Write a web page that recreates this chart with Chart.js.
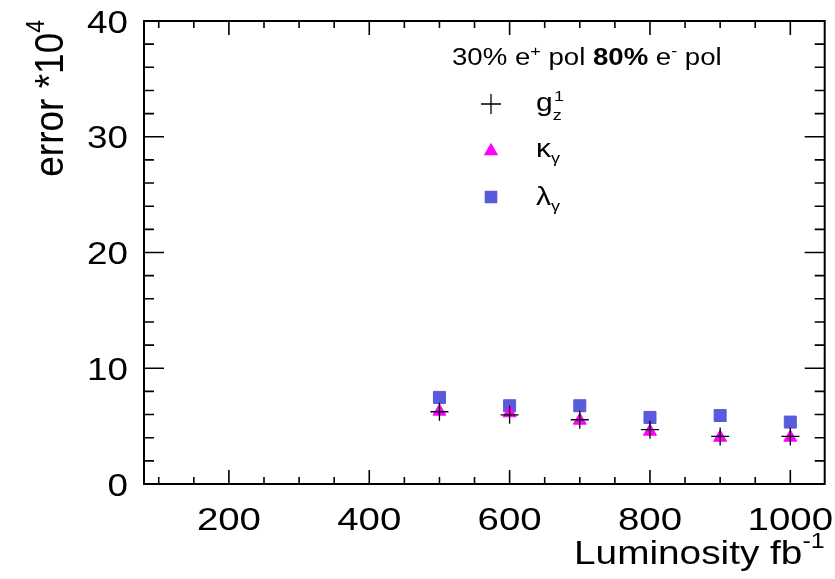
<!DOCTYPE html>
<html>
<head>
<meta charset="utf-8">
<script src="https://cdn.jsdelivr.net/npm/chart.js@4/dist/chart.umd.min.js"></script>
<style>
  html, body { margin: 0; background: #fff; }
</style>
</head>
<body>
<canvas id="errChart" width="835" height="579"></canvas>
<script>
// values (error * 10^4)
const luminosity = [500, 600, 700, 800, 900, 1000];
const gz1Err = [6.24, 5.98, 5.55, 4.69, 4.11, 4.11];
const kappaErr = [6.27, 6.13, 5.49, 4.54, 4.02, 4.02];
const lambdaErr = [7.48, 6.76, 6.76, 5.75, 5.92, 5.35];

const xTickValues = [200, 400, 600, 800, 1000];
const yTickValues = [0, 10, 20, 30, 40];

const FONT = 'Liberation Sans, Arial, sans-serif';
// the original text is a bit wider than Helvetica
const SX = 1.2;

function toPoints(ys) {
    return luminosity.map((x, i) => ({ x: x, y: ys[i] }));
}

function setFont(ctx, p) {
    ctx.font = (p.bold ? 'bold ' : '') + p.size + 'px ' + FONT;
}

function richWidth(ctx, parts) {
    let w = 0;
    parts.forEach(p => {
        setFont(ctx, p);
        w += ctx.measureText(p.t).width;
    });
    return w;
}

// draw text pieces left to right in a local frame (already translated / scaled)
function drawRichLocal(ctx, parts, x, y) {
    let cx = x;
    parts.forEach(p => {
        setFont(ctx, p);
        ctx.fillText(p.t, cx, y + (p.dy || 0));
        cx += ctx.measureText(p.t).width;
    });
}

// horizontal text, widened on screen by sx, align: 'left' | 'center' | 'right'
function drawText(ctx, parts, x, y, align, sx) {
    sx = sx || SX;
    const w = richWidth(ctx, parts) * sx;
    let x0 = x;
    if (align === 'center') x0 = x - w / 2;
    if (align === 'right') x0 = x - w;
    ctx.save();
    ctx.translate(x0, y);
    ctx.scale(sx, 1);
    ctx.textAlign = 'left';
    drawRichLocal(ctx, parts, 0, 0);
    ctx.restore();
}

const rootStyle = {
    id: 'rootStyle',
    afterDraw(chart) {
        const ctx = chart.ctx;
        const a = chart.chartArea;
        const xs = chart.scales.x;
        const ys = chart.scales.y;
        ctx.save();
        ctx.strokeStyle = '#000';
        ctx.fillStyle = '#000';
        ctx.textBaseline = 'alphabetic';

        // frame
        ctx.lineWidth = 2;
        ctx.strokeRect(a.left, a.top, a.right - a.left, a.bottom - a.top);

        // inward ticks on all four sides
        ctx.lineWidth = 1.6;
        ctx.beginPath();
        for (let v = 100; v <= 1000; v += 50) {
            const px = xs.getPixelForValue(v);
            const len = v % 200 === 0 ? 14 : 7;
            ctx.moveTo(px, a.bottom); ctx.lineTo(px, a.bottom - len);
            ctx.moveTo(px, a.top); ctx.lineTo(px, a.top + len);
        }
        for (let v = 0; v <= 40; v += 2) {
            const py = ys.getPixelForValue(v);
            const len = v % 10 === 0 ? 20 : 10;
            ctx.moveTo(a.left, py); ctx.lineTo(a.left + len, py);
            ctx.moveTo(a.right, py); ctx.lineTo(a.right - len, py);
        }
        ctx.stroke();

        // tick labels
        xTickValues.forEach(v => {
            drawText(ctx, [{ t: String(v), size: 32 }], xs.getPixelForValue(v), 530, 'center');
        });
        yTickValues.forEach(v => {
            drawText(ctx, [{ t: String(v), size: 32 }], a.left - 16, ys.getPixelForValue(v) + 11.5, 'right', 1.15);
        });

        // axis titles
        drawText(ctx, [
            { t: 'Luminosity fb', size: 34 },
            { t: '-1', size: 22, dy: -16 }
        ], a.right, 564, 'right', 1.14);

        const yTitle = [
            { t: 'error *10', size: 37 },
            { t: '4', size: 23, dy: -17 }
        ];
        ctx.save();
        ctx.translate(63, 20);
        ctx.scale(1.12, 1);
        ctx.rotate(-Math.PI / 2);
        drawRichLocal(ctx, yTitle, -richWidth(ctx, yTitle), 0);
        ctx.restore();

        // legend header
        drawText(ctx, [
            { t: '30% e', size: 23 },
            { t: '+', size: 15, dy: -9 },
            { t: ' pol ', size: 23 },
            { t: '80%', size: 23, bold: true },
            { t: ' e', size: 23 },
            { t: '-', size: 15, dy: -9 },
            { t: ' pol', size: 23 }
        ], 452, 65, 'left');

        // legend markers
        const mx = 491;
        const helpers = Chart.helpers;
        ctx.strokeStyle = '#000';
        ctx.lineWidth = 1.3;
        helpers.drawPoint(ctx, { pointStyle: 'cross', radius: 10, borderWidth: 1.3 }, mx, 104);
        ctx.fillStyle = '#ff00ff';
        ctx.strokeStyle = '#ff00ff';
        helpers.drawPoint(ctx, { pointStyle: 'triangle', radius: 7, borderWidth: 1 }, mx, 151);
        ctx.fillStyle = '#5a5adc';
        ctx.strokeStyle = '#5a5adc';
        helpers.drawPoint(ctx, { pointStyle: 'rect', radius: 8, borderWidth: 1 }, mx, 197);

        // legend labels
        ctx.fillStyle = '#000';
        const lx = 536;
        ctx.save();
        ctx.translate(lx, 0);
        ctx.scale(SX, 1);
        ctx.font = '25px ' + FONT;
        ctx.fillText('g', 0, 111);
        const gw = ctx.measureText('g').width;
        ctx.font = '15px ' + FONT;
        ctx.fillText('1', gw + 1, 101);
        ctx.fillText('z', gw, 120);

        ctx.font = '25px ' + FONT;
        ctx.fillText('\u03ba', 0, 157);
        const kw = ctx.measureText('\u03ba').width;
        ctx.font = '15px ' + FONT;
        ctx.fillText('\u03b3', kw, 163);

        ctx.font = '25px ' + FONT;
        ctx.fillText('\u03bb', 0, 205);
        const lw = ctx.measureText('\u03bb').width;
        ctx.font = '15px ' + FONT;
        ctx.fillText('\u03b3', lw, 211);
        ctx.restore();

        ctx.restore();
    }
};

const errChart = new Chart(document.getElementById('errChart').getContext('2d'), {
    type: 'scatter',
    data: {
        datasets: [
            {
                label: 'lambda_gamma',
                data: toPoints(lambdaErr),
                pointStyle: 'rect',
                radius: 8.5,
                backgroundColor: '#5a5adc',
                borderColor: '#5a5adc',
                borderWidth: 1,
                order: 3
            },
            {
                label: 'kappa_gamma',
                data: toPoints(kappaErr),
                pointStyle: 'triangle',
                radius: 7.5,
                backgroundColor: '#ff00ff',
                borderColor: '#ff00ff',
                borderWidth: 1,
                order: 2
            },
            {
                label: 'g1z',
                data: toPoints(gz1Err),
                pointStyle: 'cross',
                radius: 9,
                borderColor: '#000',
                borderWidth: 1.3,
                order: 1
            }
        ]
    },
    options: {
        responsive: false,
        animation: false,
        layout: { padding: { top: 21, right: 7, left: 0, bottom: 0 } },
        plugins: {
            legend: { display: false },
            tooltip: { enabled: false }
        },
        scales: {
            x: {
                type: 'linear',
                min: 79,
                max: 1049,
                grid: { display: false, drawTicks: false },
                border: { display: false },
                ticks: { display: false },
                afterFit: s => { s.height = 95; }
            },
            y: {
                min: 0,
                max: 40,
                grid: { display: false, drawTicks: false },
                border: { display: false },
                ticks: { display: false },
                afterFit: s => { s.width = 144; }
            }
        }
    },
    plugins: [rootStyle]
});
</script>
</body>
</html>
